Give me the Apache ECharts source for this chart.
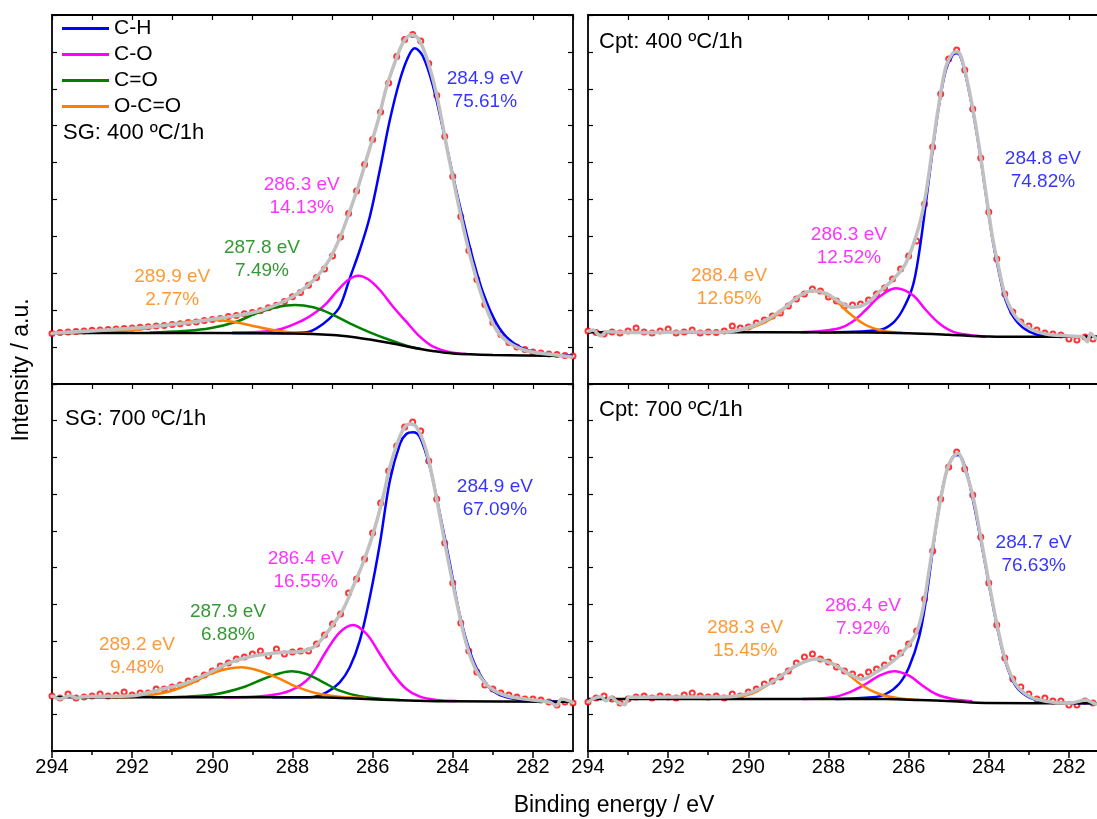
<!DOCTYPE html>
<html>
<head>
<meta charset="utf-8">
<title>C 1s XPS</title>
<script src="https://cdn.jsdelivr.net/npm/echarts@6.0.0/dist/echarts.min.js"></script>
<style>
  html, body { margin: 0; padding: 0; background: #fff; }
  #main { width: 1097px; height: 819px; }
</style>
</head>
<body>
<div id="main"></div>
<script>
// component names and colours
var names = ['C-H', 'C-O', 'C=O', 'O-C=O'];
var colors = ['#0000ff', '#ff00ff', '#008000', '#ff8000'];
var evenTicks = [282, 284, 286, 288, 290, 292, 294];
var oddTicks = [283, 285, 287, 289, 291, 293];

// measured energies (eV) for the raw points
var energies = [294.0, 293.8, 293.6, 293.4, 293.2, 293.0, 292.8, 292.6, 292.4, 292.2,
  292.0, 291.8, 291.6, 291.4, 291.2, 291.0, 290.8, 290.6, 290.4, 290.2,
  290.0, 289.8, 289.6, 289.4, 289.2, 289.0, 288.8, 288.6, 288.4, 288.2,
  288.0, 287.8, 287.6, 287.4, 287.2, 287.0, 286.8, 286.6, 286.4, 286.2,
  286.0, 285.8, 285.6, 285.4, 285.2, 285.0, 284.8, 284.6, 284.4, 284.2,
  284.0, 283.8, 283.6, 283.4, 283.2, 283.0, 282.8, 282.6, 282.4, 282.2,
  282.0, 281.8, 281.6, 281.4, 281.2, 281.0];

// ---- SG: 400 ºC/1h ----
var tlExp = [50.5, 51.5, 52, 52.5, 53, 53.8, 54, 54.6, 55, 55.4,
  56, 56.7, 57.2, 58, 58.6, 59.6, 60.2, 61.4, 62, 63.4,
  64.4, 65.6, 67.4, 68.6, 70.2, 71.4, 73.2, 76.2, 78.8, 82.6,
  87.2, 91.6, 98.8, 106.4, 115, 128, 147, 170.5, 193, 219.5,
  244.5, 272, 301, 327.5, 344.5, 349.5, 343, 320.5, 288.5, 247.5,
  207.5, 167.5, 133.5, 104.5, 79.5, 61.5, 49.5, 41.5, 37, 34.5,
  32, 31, 30, 29.5, 28.5, 28];
var tlCH = [[289.5, 51], [288.5, 51], [287.7, 51.5], [287.4, 55.7], [287.07, 65.7], [286.82, 77.3], [286.57, 105.7], [286.32, 134], [286.07, 167.3], [285.82, 214], [285.57, 264], [285.32, 304], [285.11, 327.3], [284.95, 335.7], [284.74, 327.3], [284.49, 297.3], [284.24, 254], [283.99, 207.3], [283.74, 164], [283.49, 124], [283.24, 90.7], [282.91, 60.7], [282.58, 44], [282.16, 34], [281.58, 29.7], [281, 28]];
var tlCO = [[289.5, 51.3], [288.4, 54], [287.73, 64], [287.4, 72.3], [287.15, 80.7], [286.9, 92.3], [286.61, 104], [286.36, 108.3], [286.11, 104.7], [285.82, 94], [285.49, 77.3], [285.16, 62.3], [284.82, 47.3], [284.49, 37.3], [284.07, 31.7], [283.66, 30]];
var tlCdO = [[291.56, 51.3], [290.72, 53], [290.06, 55.7], [289.4, 62.3], [288.9, 70.7], [288.4, 76.7], [287.94, 79], [287.48, 76.7], [287.07, 70.7], [286.57, 60.7], [286.07, 51.7], [285.57, 44], [285.07, 37.3], [284.8, 35]];
var tlOCO = [[292.8, 51.7], [291.97, 54], [291.14, 59], [290.48, 62.7], [289.98, 64], [289.48, 62.3], [288.98, 58], [288.48, 54], [287.98, 51.3], [287.5, 50.8]];
var tlBg = [[294, 51], [290, 51], [288, 50.5], [287, 49], [286.5, 47], [286, 44], [285.5, 40.5], [285, 36.5], [284.5, 33], [284, 30.5], [283, 29], [281, 28]];
var tlFit = [[294, 50.7], [291.97, 55.7], [290.72, 60.7], [289.73, 66.3], [289.06, 70.7], [288.65, 75.3], [288.06, 85.7], [287.65, 97.3], [287.32, 110.7], [287.07, 125], [286.82, 146], [286.65, 164], [286.36, 197.3], [286.11, 230.7], [285.86, 264], [285.65, 297.3], [285.36, 330.7], [285.2, 344], [285.03, 349], [284.87, 345.7], [284.66, 327.3], [284.41, 290.7], [284.12, 230.7], [283.95, 197.3], [283.74, 157.3], [283.54, 124], [283.24, 84], [282.91, 54], [282.58, 40.7], [282.16, 33.3], [281.58, 29.7], [281, 26.7]];
var tlNotes = [[283.2, 294, '284.9 eV\n75.61%', 0], [287.77, 187.5, '286.3 eV\n14.13%', 1], [288.76, 125, '287.8 eV\n7.49%', 2], [291.0, 96, '289.9 eV\n2.77%', 3]];

// ---- Cpt: 400 ºC/1h ----
var trExp = [53, 51.5, 50, 52, 51, 53, 56, 52, 51, 53,
  55, 51, 52, 54, 51, 52, 51.5, 53, 58, 56,
  57, 61, 64, 68, 71, 78, 85, 90, 95, 93,
  87, 83, 78, 79, 80, 84, 90, 96, 105, 115,
  128, 143, 180, 237, 290, 325, 334, 314, 275, 226,
  172, 125, 90, 72, 62, 58, 54, 51, 50, 49,
  45, 44, 47, 45, 48, 46];
var trCH = [[288.23, 51.6], [286.73, 54], [286.4, 60.7], [286.15, 74], [285.9, 97.3], [285.74, 130.7], [285.57, 180.7], [285.4, 234], [285.24, 279], [285.07, 314], [284.9, 329], [284.78, 330.7], [284.62, 315.7], [284.41, 275.7], [284.24, 235.7], [284.07, 189], [283.91, 145.7], [283.74, 110.7], [283.58, 84], [283.33, 64], [282.99, 52.3], [282.58, 48], [282, 47.3], [281, 47.2]];
var trCO = [[288.7, 51.7], [288.23, 52.8], [287.73, 55.7], [287.4, 62.3], [287.07, 74], [286.73, 87.3], [286.32, 95.7], [285.9, 89], [285.57, 74], [285.24, 60.7], [284.9, 52.3], [284.49, 49], [284.07, 47.3]];
var trOCO = [[290.72, 51.7], [290.14, 54], [289.64, 60.7], [289.23, 70.7], [288.81, 85.7], [288.36, 93.3], [287.9, 85.7], [287.48, 70.7], [287.07, 59], [286.65, 53.3], [286.15, 51.3]];
var trBg = [[294, 51.7], [287, 51.5], [286, 50.8], [285, 49.3], [284, 47.5], [283, 47.2], [281, 47.2]];
var trFit = [[294, 52.3], [293.88, 54], [293.68, 48], [293.55, 52.3], [293.22, 51.7], [292.5, 51.5], [291.5, 52], [290.72, 51.7], [290.31, 53.3], [289.89, 58], [289.48, 65.7], [289.06, 77.3], [288.73, 88], [288.4, 93.3], [288.06, 90.7], [287.73, 82.3], [287.4, 76.7], [287.07, 80], [286.73, 92.3], [286.4, 104], [286.07, 120.7], [285.74, 158], [285.57, 190], [285.4, 237.3], [285.24, 280.7], [285.07, 317.3], [284.9, 330.7], [284.78, 332.3], [284.62, 317.3], [284.41, 277.3], [284.24, 237.3], [284.07, 190.7], [283.91, 147.3], [283.74, 114], [283.58, 87.3], [283.33, 67.3], [282.99, 55.7], [282.58, 50], [282, 48], [281.66, 47.3], [281.54, 42.3], [281.46, 50.7], [281.31, 45.7], [281, 46]];
var trNotes = [[282.65, 214, '284.8 eV\n74.82%', 0], [287.49, 137.5, '286.3 eV\n12.52%', 1], [290.48, 97, '288.4 eV\n12.65%', 3]];

// ---- SG: 700 ºC/1h ----
var blExp = [55, 53, 57, 53, 54, 55, 57, 55, 56, 59,
  56, 58, 58, 62, 62, 64, 66, 70, 72, 76,
  80, 85, 88, 92, 94, 97, 100, 95, 102, 97,
  99, 100, 100, 107, 116, 127, 137, 158, 172, 192,
  218, 248, 280, 305, 324, 329, 320, 290, 252, 208,
  168, 128, 100, 79, 66, 62, 58, 56, 54, 52,
  52, 51, 49, 46, 49, 48];
var blCH = [[288.5, 53.7], [287.57, 53.8], [287.15, 58.7], [286.82, 68.7], [286.57, 83.7], [286.32, 110.3], [286.07, 153.7], [285.82, 207], [285.57, 270.3], [285.32, 307], [285.16, 317], [284.99, 318.7], [284.82, 313.7], [284.57, 283.7], [284.32, 237], [284.07, 187], [283.83, 137], [283.58, 100.3], [283.33, 77], [283.0, 60.3], [282.58, 53], [282.0, 50.3], [281, 49.3]];
var blCO = [[289.73, 53.7], [288.65, 55.3], [288.06, 60.3], [287.57, 73.7], [287.15, 100.3], [286.82, 118.7], [286.49, 126], [286.15, 117], [285.82, 97], [285.49, 77], [285.16, 62], [284.82, 54.3], [284.41, 51], [283.91, 50]];
var blCdO = [[291.5, 53.7], [290.72, 54.3], [289.89, 57], [289.23, 63.7], [288.73, 72], [288.31, 77.7], [288.02, 79.7], [287.65, 77], [287.23, 68.7], [286.82, 60.3], [286.32, 54.7], [285.74, 52], [285.32, 51]];
var blOCO = [[292.5, 53.7], [291.97, 54.3], [291.14, 58.7], [290.56, 67], [290.06, 77], [289.64, 82], [289.27, 83.7], [288.9, 81], [288.4, 73.7], [287.9, 64.3], [287.4, 57.7], [286.82, 54.3], [286.15, 53]];
var blBg = [[294, 53.7], [287.4, 53.7], [286.57, 52.7], [285.74, 51.3], [284.9, 50.3], [284.07, 49.7], [281, 49.3]];
var blFit = [[294, 55.3], [293.8, 52], [293.55, 55.3], [293.38, 53], [293.22, 54.3], [291.97, 55.3], [291.56, 58.7], [291.14, 63], [290.72, 67], [290.31, 73.7], [289.89, 82], [289.48, 89.7], [289.06, 94.3], [288.65, 97], [288.23, 98.7], [287.82, 99.3], [287.48, 103.7], [287.23, 113.7], [286.98, 127], [286.73, 142], [286.49, 164], [286.24, 188], [285.99, 217], [285.74, 253.7], [285.57, 283.7], [285.36, 310.3], [285.2, 323.7], [285.07, 327], [284.9, 323.7], [284.66, 300.3], [284.41, 253.7], [284.16, 200.3], [283.91, 150.3], [283.66, 107], [283.41, 80.3], [283.08, 63.7], [282.66, 55.3], [282, 51], [281.58, 48.7], [281.41, 45.3], [281.29, 52], [281, 48.7]];
var blNotes = [[282.95, 252.5, '284.9 eV\n67.09%', 0], [287.67, 181, '286.4 eV\n16.55%', 1], [289.61, 128, '287.9 eV\n6.88%', 2], [291.88, 94.5, '289.2 eV\n9.48%', 3]];

// ---- Cpt: 700 ºC/1h ----
var brExp = [49, 53, 55, 52, 48, 52, 54, 55, 53, 55,
  54, 53, 56, 58, 55, 54, 55, 53, 57, 55,
  59, 62, 67, 70, 74, 80, 88, 94, 97, 92,
  89, 84, 80, 77, 74, 79, 82, 86, 93, 98,
  107, 120, 152, 200, 252, 284, 299, 282, 256, 214,
  168, 126, 93, 72, 64, 57, 52, 53, 50, 50,
  46, 46, 50, 48, 47, 47];
var brCH = [[287.82, 52], [286.9, 53.7], [286.57, 57], [286.24, 67], [285.99, 83.7], [285.74, 113.7], [285.57, 150.3], [285.4, 200.3], [285.24, 243.7], [285.07, 277], [284.9, 293.7], [284.76, 296], [284.57, 281], [284.41, 254], [284.2, 211], [283.99, 165.3], [283.78, 122], [283.58, 88.7], [283.33, 65.3], [282.99, 53.7], [282.58, 49.3], [282, 48], [281, 47.7]];
var brCO = [[288.65, 52], [287.9, 53.7], [287.48, 58.7], [287.07, 67], [286.73, 75.3], [286.36, 79.7], [285.99, 75.3], [285.65, 65.3], [285.32, 57], [284.9, 52], [284.41, 49.7]];
var brOCO = [[291.14, 52], [290.31, 53.7], [289.89, 57.7], [289.48, 67], [289.06, 78.7], [288.69, 87.7], [288.31, 92], [287.94, 88.7], [287.57, 78.7], [287.15, 65.3], [286.73, 57], [286.24, 52.7], [285.74, 51]];
var brBg = [[294, 52], [286.57, 52], [285.74, 51], [284.9, 49.7], [284.07, 48], [281, 47.7]];
var brFit = [[294, 48.7], [293.88, 52], [293.68, 54.3], [293.55, 50.3], [293.43, 53.7], [293.26, 48.7], [293.09, 46.3], [292.97, 53.7], [290.48, 54.3], [290.06, 57], [289.64, 63.7], [289.23, 73.7], [288.81, 85.3], [288.31, 92], [287.9, 87], [287.48, 77], [287.15, 72], [286.82, 78.7], [286.49, 87], [286.15, 98.7], [285.82, 117], [285.65, 140.3], [285.49, 180.3], [285.32, 223.7], [285.16, 260.3], [284.99, 287], [284.76, 297.7], [284.66, 290.3], [284.41, 257], [284.2, 213.7], [283.99, 167], [283.78, 123.7], [283.58, 90.3], [283.33, 67], [282.99, 54.7], [282.58, 49.7], [282, 47.7], [281.58, 51], [281.31, 47], [281, 47]];
var brNotes = [[282.88, 197, '284.7 eV\n76.63%', 0], [287.14, 134, '286.4 eV\n7.92%', 1], [290.08, 112, '288.3 eV\n15.45%', 3]];

var font = '"Liberation Sans", Arial, Helvetica, sans-serif';

var panels = [
  { left: 52, top: 15, height: 369, showX: false, exp: tlExp, fit: tlFit, bg: tlBg, comps: [tlCH, tlCO, tlCdO, tlOCO], notes: tlNotes },
  { left: 588, top: 15, height: 369, showX: false, exp: trExp, fit: trFit, bg: trBg, comps: [trCH, trCO, null, trOCO], notes: trNotes },
  { left: 52, top: 384, height: 367, showX: true, exp: blExp, fit: blFit, bg: blBg, comps: [blCH, blCO, blCdO, blOCO], notes: blNotes },
  { left: 588, top: 384, height: 367, showX: true, exp: brExp, fit: brFit, bg: brBg, comps: [brCH, brCO, null, brOCO], notes: brNotes }
];

var black = { color: '#000', width: 1.8 };
var grids = [], xAxes = [], yAxes = [], series = [];

panels.forEach(function (p, i) {
  grids.push({ left: p.left, top: p.top, width: 521, height: p.height, outerBoundsMode: 'none', containLabel: false });
  var xi = xAxes.length;
  xAxes.push({
    gridIndex: i, type: 'value', min: 281, max: 294, inverse: true, position: 'bottom',
    axisLine: { show: true, onZero: false, lineStyle: black },
    axisTick: { show: p.showX, inside: false, length: 7, customValues: evenTicks, lineStyle: { color: '#000', width: 1.5 } },
    axisLabel: { show: p.showX, customValues: evenTicks, color: '#000', fontSize: 20, fontFamily: font, margin: 6 },
    splitLine: { show: false }
  });
  xAxes.push({
    gridIndex: i, type: 'value', min: 281, max: 294, inverse: true, position: 'bottom',
    axisLine: { show: false },
    axisTick: { show: p.showX, inside: false, length: 4, customValues: oddTicks, lineStyle: { color: '#000', width: 1.5 } },
    axisLabel: { show: false }, splitLine: { show: false }
  });
  xAxes.push({
    gridIndex: i, type: 'value', min: 281, max: 294, inverse: true, position: 'top', interval: 1,
    axisLine: { show: true, onZero: false, lineStyle: black },
    axisTick: { show: true, inside: true, length: 5, lineStyle: { color: '#000', width: 1.2 } },
    axisLabel: { show: false }, splitLine: { show: false }
  });
  var yi = yAxes.length;
  ['left', 'right'].forEach(function (pos) {
    yAxes.push({
      gridIndex: i, type: 'value', min: 0, max: p.height, interval: p.height / 10, position: pos,
      axisLine: { show: true, onZero: false, lineStyle: black },
      axisTick: { show: true, inside: true, length: 5, lineStyle: { color: '#000', width: 1.2 } },
      axisLabel: { show: false }, splitLine: { show: false }
    });
  });

  // raw data points
  series.push({
    type: 'scatter', xAxisIndex: xi, yAxisIndex: yi, silent: true, z: 2,
    symbol: 'emptyCircle', symbolSize: 5,
    itemStyle: { color: '#ff0000', borderColor: '#ff0000', borderWidth: 1 },
    data: energies.map(function (e, k) { return [e, p.exp[k]]; })
  });
  // fitted components
  p.comps.forEach(function (c, j) {
    if (!c) return;
    series.push({
      name: names[j], type: 'line', xAxisIndex: xi, yAxisIndex: yi, z: 3,
      smooth: 0.35, symbol: 'none', silent: true,
      lineStyle: { color: colors[j], width: 2.5 }, itemStyle: { color: colors[j] },
      data: c
    });
  });
  // background
  series.push({
    type: 'line', xAxisIndex: xi, yAxisIndex: yi, z: 4, smooth: 0.35, symbol: 'none', silent: true,
    lineStyle: { color: '#000', width: 2.5 }, data: p.bg
  });
  // envelope
  series.push({
    type: 'line', xAxisIndex: xi, yAxisIndex: yi, z: 5, smooth: 0.35, symbol: 'none', silent: true,
    lineStyle: { color: '#c0c0c0', width: 3.5 }, data: p.fit
  });
  // peak annotations
  series.push({
    type: 'scatter', xAxisIndex: xi, yAxisIndex: yi, z: 6, silent: true, symbolSize: 1,
    itemStyle: { color: 'rgba(0,0,0,0)' },
    label: { show: true, position: 'inside', fontSize: 19, lineHeight: 23, fontFamily: font, align: 'center',
      formatter: function (d) { return d.name; } },
    data: p.notes.map(function (n) {
      return { name: n[2], value: [n[0], n[1]], label: { color: colors[n[3]] } };
    })
  });
});

var panelTitles = [
  ['SG: 400 ºC/1h', 63, 133], ['Cpt: 400 ºC/1h', 599, 42],
  ['SG: 700 ºC/1h', 65, 419], ['Cpt: 700 ºC/1h', 599, 410]
];
var graphics = panelTitles.map(function (t) {
  return { type: 'text', x: t[1], y: t[2], silent: true,
    style: { text: t[0], fill: '#000', font: '22px ' + font, align: 'left', verticalAlign: 'middle' } };
});
graphics.push({ type: 'text', x: 614, y: 806, silent: true,
  style: { text: 'Binding energy / eV', fill: '#000', font: '23px ' + font, align: 'center', verticalAlign: 'middle' } });
graphics.push({ type: 'text', x: 22, y: 370, rotation: Math.PI / 2, silent: true,
  style: { text: 'Intensity / a.u.', fill: '#000', font: '23px ' + font, align: 'center', verticalAlign: 'middle' } });

var chart = echarts.init(document.getElementById('main'), null, { renderer: 'canvas' });
chart.setOption({
  backgroundColor: '#fff',
  animation: false,
  legend: {
    left: 62, top: 18, orient: 'vertical', padding: 0, itemWidth: 47, itemHeight: 3, itemGap: 5,
    selectedMode: false,
    data: names.map(function (n) { return { name: n, icon: 'rect' }; }),
    textStyle: { color: '#000', fontSize: 21, lineHeight: 21, fontFamily: font }
  },
  grid: grids,
  xAxis: xAxes,
  yAxis: yAxes,
  series: series,
  graphic: graphics
});
</script>
</body>
</html>
